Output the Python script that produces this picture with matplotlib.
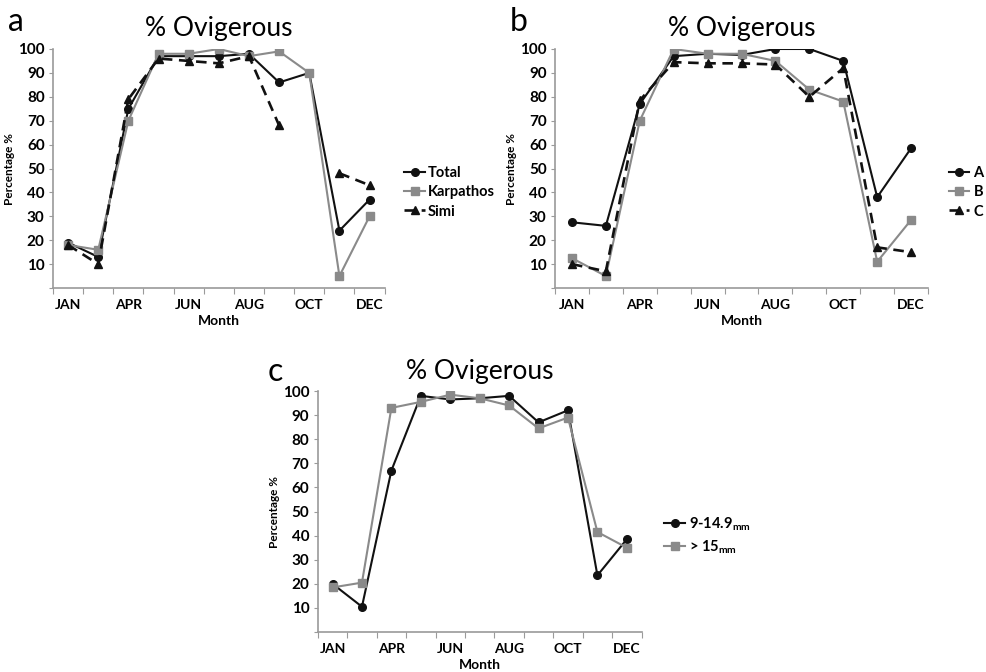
import matplotlib
matplotlib.use("Agg")
import matplotlib.pyplot as plt
import numpy as np

plt.rcParams['font.family'] = ['Lato', 'DejaVu Sans']

months = ['JAN', 'FEB', 'APR', 'MAY', 'JUN', 'JUL', 'AUG', 'SEP', 'OCT', 'NOV', 'DEC']
shown = ['JAN', 'APR', 'JUN', 'AUG', 'OCT', 'DEC']

# panel a: by island
total = [19, 13, 75, 97, 97, 97, 98, 86, 90, 24, 37]
karpathos = [18, 16, 70, 98, 98, 100, 97, 99, 90, 5, 30]
simi = [18, 10, 79, 96, 95, 94, 97, 68, np.nan, 48, 43]

# panel b: by site
site_a = [27.5, 26, 77, 97, 98, 97.5, 100, 100, 95, 38, 58.5]
site_b = [12.5, 5, 70, 100, 98, 98, 95, 83, 78, 11, 28.5]
site_c = [10, 7, 78.5, 94.5, 94, 94, 93.5, 80, 92, 17, 15]

# panel c: by size class
small = [20, 10.5, 67, 98, 96.5, 97, 98, 87, 92, 23.5, 38.5]
large = [18.5, 20.5, 93, 95.5, 98.5, 97, 94, 84.5, 89, 41.5, 35]

BLACK = '#111111'
GRAY = '#8a8a8a'
AXC = '#9a9a9a'

styles = {
    'circle': dict(color=BLACK, marker='o', linestyle='-', lw=1.5, ms=5.5),
    'square': dict(color=GRAY, marker='s', linestyle='-', lw=1.5, ms=5.5),
    'tri': dict(color=BLACK, marker='^', linestyle=(0, (4, 2.5)), lw=1.9, ms=6),
}
leg_font = {'weight': 'bold', 'size': 10.5}


def setup(ax):
    n = len(months)
    x = np.arange(n)
    ax.set_xlim(-0.5, n - 0.5)
    ax.set_ylim(0, 100)
    ax.spines['top'].set_visible(False)
    ax.spines['right'].set_visible(False)
    for s in ('left', 'bottom'):
        ax.spines[s].set_color(AXC)
        ax.spines[s].set_linewidth(1.2)
    ax.set_xticks(np.arange(n + 1) - 0.5)
    ax.set_xticklabels([])
    pos = [months.index(m) for m in shown]
    ax.set_xticks(pos, minor=True)
    ax.set_xticklabels(shown, minor=True, fontsize=10, fontweight='bold')
    ax.tick_params(axis='x', which='major', direction='out', length=4, color=AXC)
    ax.tick_params(axis='x', which='minor', length=0, pad=8)
    ax.set_yticks(np.arange(0, 101, 10))
    ax.set_yticklabels([''] + [str(v) for v in range(10, 101, 10)], fontsize=11, fontweight='bold')
    ax.tick_params(axis='y', direction='out', length=3, color=AXC, pad=3)
    ax.set_xlabel('Month', fontsize=10, fontweight='bold', labelpad=3)
    ax.set_ylabel('Percentage %', fontsize=8.5, fontweight='bold', labelpad=2)
    ax.set_title('% Ovigerous', fontsize=19, pad=9)
    return x


fig = plt.figure(figsize=(9.87, 6.72), dpi=100)

ax_a = fig.add_axes([0.0537, 0.5714, 0.336, 0.3557])
x = setup(ax_a)
ax_a.plot(x, total, label='Total', **styles['circle'])
ax_a.plot(x, karpathos, label='Karpathos', **styles['square'])
ax_a.plot(x, simi, label='Simi', **styles['tri'])
ax_a.legend(loc='center left', bbox_to_anchor=(1.02, 0.4), frameon=False,
            handlelength=1.4, handletextpad=0.2, labelspacing=0.35, prop=leg_font)
fig.text(0.008, 0.968, 'a', fontsize=23, va='center')

ax_b = fig.add_axes([0.5623, 0.5714, 0.378, 0.3557])
x = setup(ax_b)
ax_b.plot(x, site_a, label='A', **styles['circle'])
ax_b.plot(x, site_b, label='B', **styles['square'])
ax_b.plot(x, site_c, label='C', **styles['tri'])
ax_b.legend(loc='center left', bbox_to_anchor=(1.02, 0.4), frameon=False,
            handlelength=1.4, handletextpad=0.3, labelspacing=0.35, prop=leg_font)
fig.text(0.516, 0.968, 'b', fontsize=23, va='center')

ax_c = fig.add_axes([0.322, 0.0595, 0.328, 0.3586])
x = setup(ax_c)
ax_c.plot(x, small, label='9-14.9$_{\\mathregular{mm}}$', **styles['circle'])
ax_c.plot(x, large, label='> 15$_{\\mathregular{mm}}$', **styles['square'])
ax_c.legend(loc='center left', bbox_to_anchor=(1.03, 0.4), frameon=False,
            handlelength=1.4, handletextpad=0.3, labelspacing=0.35, prop=leg_font)
fig.text(0.271, 0.447, 'c', fontsize=23, va='center')

fig.savefig('out.png', dpi=100)
